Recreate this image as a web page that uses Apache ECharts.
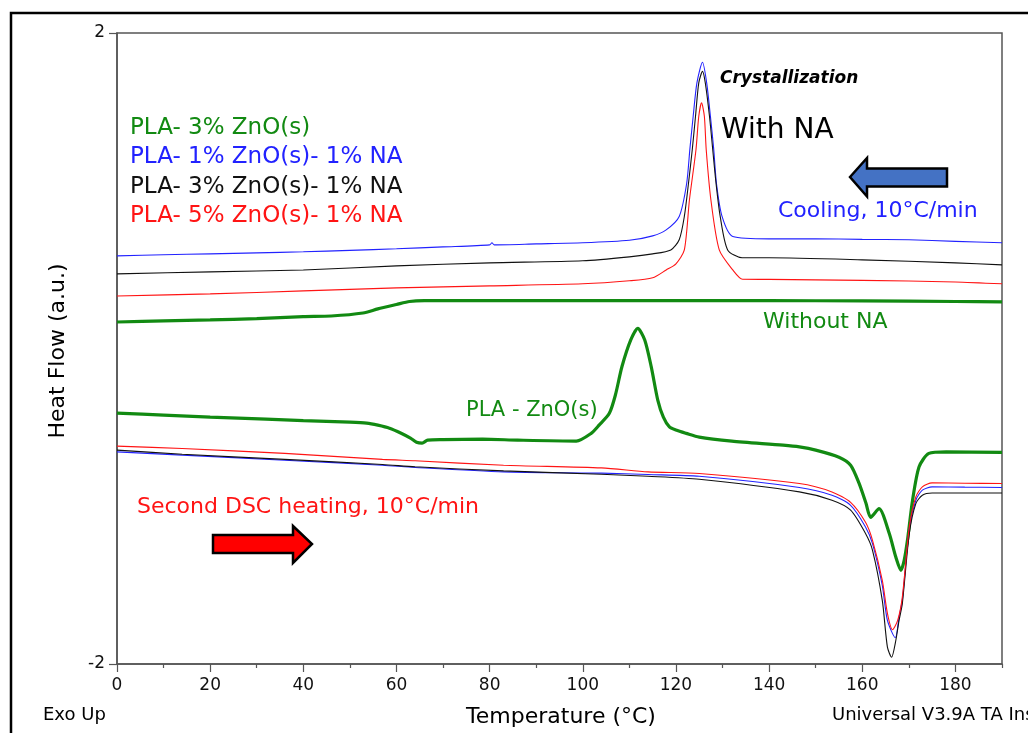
<!DOCTYPE html>
<html><head><meta charset="utf-8">
<script src="https://cdn.jsdelivr.net/npm/echarts@6/dist/echarts.min.js"></script>
<style>html,body{margin:0;padding:0;background:#fff}#c{width:1028px;height:733px}</style>
</head><body><div id="c"></div><script>
// ---- data (Temperature °C, Heat Flow a.u.) ----
// Cooling curves
const coolBlueT = [0,10,20,30,40,50,60,70,80,80.5,81,90,100,110,115,117.9,120.7,122.3,123.0,123.7,124.5,125.7,126.6,127.4,128.1,128.7,129.9,132.2,140,150,160,170,180,190];
const coolBlueV = [0.587,0.594,0.600,0.606,0.613,0.622,0.632,0.644,0.657,0.670,0.657,0.663,0.670,0.686,0.714,0.752,0.837,1.046,1.267,1.472,1.684,1.815,1.684,1.472,1.267,1.046,0.837,0.710,0.695,0.695,0.692,0.689,0.679,0.670];
const coolBlackT = [0,20,40,60,80,100,110,115,118.9,120.7,121.8,122.7,123.5,124.2,124.9,125.7,126.3,127.2,127.9,128.6,129.5,131.1,134.2,140,160,180,190];
const coolBlackV = [0.473,0.486,0.498,0.524,0.543,0.556,0.581,0.600,0.625,0.689,0.837,1.049,1.260,1.472,1.684,1.757,1.684,1.472,1.260,1.049,0.837,0.625,0.575,0.575,0.562,0.543,0.530];
const coolRedT = [0,20,40,60,80,100,110,115,117.9,120,121.8,122.9,124.3,124.9,125.5,126.1,126.5,127.5,129.3,132.2,134.3,140,160,180,190];
const coolRedV = [0.333,0.346,0.365,0.384,0.397,0.410,0.429,0.448,0.498,0.537,0.625,0.943,1.260,1.472,1.557,1.472,1.260,0.943,0.625,0.498,0.439,0.438,0.432,0.422,0.410];
const coolGreenT = [0,10,20,30,40,46,52.8,56,60,62.8,66,80,100,120,140,160,180,190];
const coolGreenV = [0.168,0.175,0.181,0.190,0.202,0.206,0.225,0.251,0.279,0.298,0.303,0.303,0.303,0.303,0.303,0.302,0.298,0.295];
// Second heating curves
const heatBlueT = [0,14,36,57,64,83,104,114,125,146.5,153.5,157.5,160.7,162.2,164.3,165.4,167.1,167.9,168.6,170.1,171.5,172.9,175,182,190];
const heatBlueV = [-0.655,-0.676,-0.708,-0.740,-0.754,-0.782,-0.790,-0.799,-0.810,-0.881,-0.930,-0.994,-1.131,-1.237,-1.502,-1.724,-1.834,-1.703,-1.597,-1.142,-0.962,-0.898,-0.877,-0.879,-0.881];
const heatBlackT = [0,14,36,57,64,83,104,114,125,146.5,153.5,157.5,160.7,162.2,164.3,165.4,166.3,167.2,167.9,168.6,170.1,171.5,172.9,175,182,190];
const heatBlackV = [-0.644,-0.670,-0.703,-0.735,-0.750,-0.776,-0.797,-0.810,-0.829,-0.909,-0.962,-1.025,-1.173,-1.279,-1.597,-1.893,-1.957,-1.851,-1.724,-1.618,-1.173,-0.983,-0.930,-0.916,-0.916,-0.916];
const heatRedT = [0,14,36,57,64,83,104,114,125,146.5,153.5,157.5,160.7,162.2,164.3,165.4,166.5,167.6,168.6,170.1,171.5,172.9,175,182,190];
const heatRedV = [-0.619,-0.634,-0.665,-0.703,-0.712,-0.740,-0.757,-0.782,-0.792,-0.856,-0.909,-0.975,-1.102,-1.216,-1.470,-1.679,-1.783,-1.724,-1.576,-1.131,-0.941,-0.877,-0.852,-0.854,-0.856];
const heatGreenT = [0,10,20,32,40,50,53.6,56,58.5,61,63,64.3,65.5,66.7,70,78.5,86,98.6,101.8,103.5,105.7,107,108.4,110.3,111.8,113.3,114.7,116.1,117.3,118.6,120,122.2,125,132,143,146.5,150,155,157.5,159.3,160.8,161.8,163.6,165.8,167.2,168.3,169,169.7,170.8,172.2,174.3,178,190];
const heatGreenV = [-0.410,-0.422,-0.435,-0.448,-0.457,-0.467,-0.473,-0.486,-0.505,-0.537,-0.568,-0.594,-0.600,-0.581,-0.578,-0.575,-0.581,-0.587,-0.538,-0.486,-0.411,-0.295,-0.116,0.054,0.128,0.054,-0.116,-0.327,-0.435,-0.497,-0.517,-0.538,-0.562,-0.587,-0.613,-0.624,-0.644,-0.689,-0.740,-0.854,-0.981,-1.070,-1.015,-1.173,-1.322,-1.406,-1.343,-1.216,-0.962,-0.750,-0.665,-0.655,-0.659];
// axis ticks / labels
const xMajorTicks = [0,20,40,60,80,100,120,140,160,180];
const xMinorTicks = [10,30,50,70,90,110,130,150,170,190];
const yTicks = [-2,2];
// legend / annotation texts
const legendLines = ['PLA- 3% ZnO(s)','PLA- 1% ZnO(s)- 1% NA','PLA- 3% ZnO(s)- 1% NA','PLA- 5% ZnO(s)- 1% NA'];

const GREEN = '#128a12', BLUE = '#2222ff', BLACK = '#111111', RED = '#ff1414';
const FONT = 'DejaVu Sans';

function pairs(t, v) { return t.map((x, i) => [x, v[i]]); }
function line(name, t, v, color, width) {
  return { name, type: 'line', data: pairs(t, v), showSymbol: false, smooth: 0.25,
    lineStyle: { color, width }, itemStyle: { color }, silent: true, animation: false, z: 3 };
}
function txt(text, x, y, size, color, extra, elExtra) {
  return Object.assign({ type: 'text', x, y, z: 100, style: Object.assign({ text, fill: color,
    fontSize: size, fontFamily: FONT, textAlign: 'left', textVerticalAlign: 'middle' }, extra || {}) }, elExtra || {});
}

const chart = echarts.init(document.getElementById('c'), null, { renderer: 'canvas' });
const legendColors = [GREEN, BLUE, BLACK, RED];
const legendY = [128, 157.5, 187, 216];

chart.setOption({
  animation: false,
  backgroundColor: '#fff',
  grid: { left: 117, right: 26, top: 33, bottom: 69, show: true, borderColor: '#555', borderWidth: 1.5 },
  xAxis: [{
    type: 'value', min: 0, max: 190, interval: 20, position: 'bottom',
    axisLine: { show: true, onZero: false, lineStyle: { color: '#555', width: 1.5 } },
    axisTick: { show: true, customValues: xMajorTicks, length: 8, lineStyle: { color: '#555', width: 1.2 } },
    axisLabel: { show: true, showMaxLabel: false, margin: 13, fontSize: 17, color: '#111', fontFamily: FONT,
      formatter: v => (xMajorTicks.indexOf(v) >= 0 ? String(v) : '') },
    splitLine: { show: false }
  }, {
    type: 'value', min: 0, max: 190, position: 'bottom',
    axisLine: { show: false, onZero: false },
    axisTick: { show: true, customValues: xMinorTicks, length: 4, lineStyle: { color: '#555', width: 1.2 } },
    axisLabel: { show: false }, splitLine: { show: false }
  }],
  yAxis: {
    type: 'value', min: -2, max: 2, interval: 2, position: 'left',
    axisLine: { show: true, onZero: false, lineStyle: { color: '#555', width: 1.5 } },
    axisTick: { show: true, customValues: yTicks, length: 8, lineStyle: { color: '#555', width: 1.2 } },
    axisLabel: { show: true, margin: 12, fontSize: 17, color: '#111', fontFamily: FONT,
      formatter: v => (yTicks.indexOf(v) >= 0 ? String(v) : '') },
    splitLine: { show: false }
  },
  series: [
    line('cool green', coolGreenT, coolGreenV, GREEN, 3.2),
    line('heat green', heatGreenT, heatGreenV, GREEN, 3.2),
    line('cool blue', coolBlueT, coolBlueV, BLUE, 1.1),
    line('heat blue', heatBlueT, heatBlueV, BLUE, 1.1),
    line('cool black', coolBlackT, coolBlackV, BLACK, 1.1),
    line('heat black', heatBlackT, heatBlackV, BLACK, 1.1),
    line('cool red', coolRedT, coolRedV, RED, 1.1),
    line('heat red', heatRedT, heatRedV, RED, 1.1)
  ],
  graphic: [
    { type: 'rect', z: 100, shape: { x: 11, y: 13, width: 1200, height: 1000 }, style: { fill: 'none', stroke: '#000', lineWidth: 2.5 } },
    ...legendLines.map((s, i) => txt(s, 130, legendY[i], 23, legendColors[i])),
    txt('Crystallization', 720, 79, 17, '#000', { fontWeight: 'bold', fontStyle: 'italic' }),
    txt('With NA', 721, 131, 28, '#000'),
    txt('Cooling, 10°C/min', 778, 211, 22, BLUE),
    txt('Without NA', 763, 322, 22, GREEN),
    txt('PLA - ZnO(s)', 466, 411, 21, GREEN),
    txt('Second DSC heating, 10°C/min', 137, 507, 22, RED),
    { type: 'polygon', z: 100, shape: { points: [[850,177],[867,158],[867,168.5],[947,168.5],[947,186.5],[867,186.5],[867,196.5]] },
      style: { fill: '#4472C4', stroke: '#000', lineWidth: 2.5 } },
    { type: 'polygon', z: 100, shape: { points: [[213,535],[293,535],[293,526],[312,544],[293,563],[293,553],[213,553]] },
      style: { fill: '#ff0000', stroke: '#000', lineWidth: 2.5 } },
    txt('Heat Flow (a.u.)', 58, 351, 22, '#000', { textAlign: 'center' }, { rotation: Math.PI / 2 }),
    txt('Temperature (°C)', 561, 717, 22, '#000', { textAlign: 'center' }),
    txt('Exo Up', 43, 715, 18, '#000'),
    txt('Universal V3.9A TA Instruments', 832, 715, 18, '#000')
  ]
});
</script></body></html>
